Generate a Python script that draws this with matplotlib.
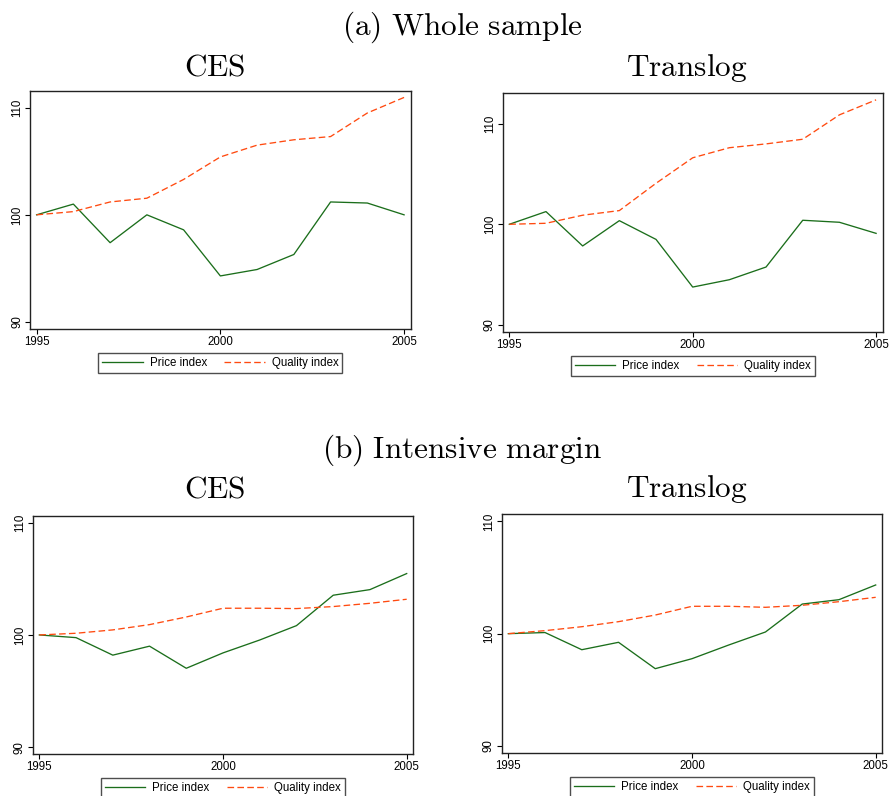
import matplotlib
matplotlib.use("Agg")
import matplotlib.pyplot as plt

plt.rcParams['mathtext.fontset'] = 'cm'
plt.rcParams['font.family'] = ['Liberation Sans', 'DejaVu Sans']

years = list(range(1995, 2006))

# (a) whole sample
ces_whole_price = [100, 101.0, 97.4, 100.0, 98.6, 94.3, 94.9, 96.3, 101.2, 101.1, 100.0]
ces_whole_quality = [100, 100.3, 101.2, 101.55, 103.3, 105.4, 106.5, 107.0, 107.3, 109.5, 110.95]
tl_whole_price = [100, 101.26, 97.85, 100.36, 98.5, 93.77, 94.5, 95.76, 100.4, 100.2, 99.1]
tl_whole_quality = [100, 100.1, 100.9, 101.36, 104.07, 106.6, 107.6, 107.98, 108.44, 110.86, 112.35]

# (b) intensive margin
ces_int_price = [100, 99.76, 98.2, 99.0, 97.03, 98.4, 99.55, 100.83, 103.54, 104.04, 105.47]
ces_int_quality = [100, 100.15, 100.45, 100.92, 101.6, 102.38, 102.38, 102.35, 102.53, 102.82, 103.18]
tl_int_price = [100, 100.1, 98.57, 99.23, 96.88, 97.77, 98.99, 100.15, 102.64, 103.03, 104.34]
tl_int_quality = [100, 100.27, 100.62, 101.07, 101.66, 102.44, 102.44, 102.35, 102.53, 102.85, 103.24]

yticks = [90, 100, 110]
xticks = [1995, 2000, 2005]

W, H = 889, 796
fig = plt.figure(figsize=(W / 100, H / 100), dpi=100)

GREEN = '#1b6e1b'
ORANGE = '#ff4a10'
FS = 8.3


def px_axes(left, top, right, bottom):
    return fig.add_axes([left / W, 1 - bottom / H, (right - left) / W, (bottom - top) / H])


def panel(box, price, quality, ylim, legend_top):
    ax = px_axes(*box)
    ax.plot(years, price, color=GREEN, lw=0.95, label='Price index')
    ax.plot(years, quality, color=ORANGE, lw=0.95, ls=(0, (5, 2.5)), label='Quality index')
    ax.set_xlim(1994.82, 2005.18)
    ax.set_ylim(*ylim)
    ax.set_xticks(xticks)
    ax.set_yticks(yticks)
    ax.tick_params(labelsize=FS, length=3.5, width=0.8, pad=1.5)
    for lab in ax.get_yticklabels():
        lab.set_rotation(90)
        lab.set_va('center')
    for s in ax.spines.values():
        s.set_linewidth(1.0)
        s.set_color('#222222')
    ax_h = box[3] - box[1]
    leg = ax.legend(loc='upper center', bbox_to_anchor=(0.5, -(legend_top - box[3]) / ax_h),
                    ncol=2, fontsize=FS, frameon=True, fancybox=False, handlelength=3.5,
                    columnspacing=1.5, borderpad=0.35, handletextpad=0.6, borderaxespad=0)
    leg.get_frame().set_edgecolor('#222222')
    leg.get_frame().set_linewidth(1.0)
    return ax


panel((30, 91, 410.7, 329), ces_whole_price, ces_whole_quality, (89.35, 111.55), 352.7)
panel((502.7, 93.3, 882.7, 331.7), tl_whole_price, tl_whole_quality, (89.34, 113.0), 355.7)
panel((32.7, 516, 413.3, 754), ces_int_price, ces_int_quality, (89.39, 110.6), 778)
panel((501.7, 514.3, 882.3, 752.7), tl_int_price, tl_int_quality, (89.39, 110.64), 776.7)

tsize = 22.5
fig.text(462 / W, 1 - 35 / H, r'$\mathrm{(a)\ Whole\ sample}$', ha='center', va='baseline', fontsize=tsize)
fig.text(215 / W, 1 - 76 / H, r'$\mathrm{CES}$', ha='center', va='baseline', fontsize=tsize)
fig.text(687 / W, 1 - 76 / H, r'$\mathrm{Translog}$', ha='center', va='baseline', fontsize=tsize)
fig.text(462 / W, 1 - 458 / H, r'$\mathrm{(b)\ Intensive\ margin}$', ha='center', va='baseline', fontsize=tsize)
fig.text(215 / W, 1 - 497 / H, r'$\mathrm{CES}$', ha='center', va='baseline', fontsize=tsize)
fig.text(687 / W, 1 - 497 / H, r'$\mathrm{Translog}$', ha='center', va='baseline', fontsize=tsize)

fig.savefig('out.png', dpi=100)
